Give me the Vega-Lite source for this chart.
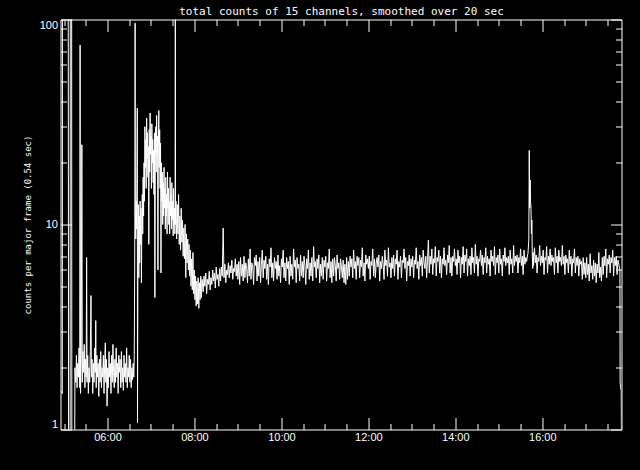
{
"$schema": "https://vega.github.io/schema/vega-lite/v6.json",
"width": 561, "height": 410,
"autosize": "none",
"padding": {"left": 60.5, "top": 19.5, "right": 18.5, "bottom": 40.5},
"background": "black",
"config": {
  "view": {"stroke": "white", "strokeWidth": 1},
  "axis": {"grid": false, "domain": false, "labelColor": "white", "tickColor": "white", "tickWidth": 1, "labelFont": "Liberation Sans", "labelFontSize": 11, "titleColor": "white"}
},
"data": {"values": [
{"h":4.92,"v":1.55},{"h":4.96,"v":1.5},{"h":4.965,"v":300},{"h":5.095,"v":300},{"h":5.10,"v":28.3},{"h":5.105,"v":0.5},{"h":5.14,"v":0.5},{"h":5.145,"v":300},{"h":5.175,"v":300},{"h":5.18,"v":0.5},{"h":5.245,"v":0.5},
{"h":5.25,"v":2.0},{"h":5.27,"v":1.7},{"h":5.285,"v":2.3},{"h":5.30,"v":1.6},{"h":5.315,"v":2.1},{"h":5.33,"v":1.8},{"h":5.345,"v":2.5},{"h":5.36,"v":1.6},{"h":5.37,"v":75},{"h":5.38,"v":1.5},{"h":5.395,"v":2.2},{"h":5.41,"v":24.5},{"h":5.42,"v":1.7},{"h":5.435,"v":2.4},{"h":5.45,"v":1.9},{"h":5.465,"v":2.6},{"h":5.48,"v":1.6},{"h":5.495,"v":2.2},{"h":5.51,"v":1.8},{"h":5.52,"v":6.9},{"h":5.53,"v":1.7},{"h":5.545,"v":2.3},{"h":5.56,"v":1.5},{"h":5.575,"v":2.0},{"h":5.59,"v":1.7},{"h":5.605,"v":2.4},{"h":5.62,"v":4.5},{"h":5.63,"v":1.8},{"h":5.645,"v":2.2},{"h":5.66,"v":1.5},{"h":5.675,"v":2.1},{"h":5.69,"v":1.7},{"h":5.705,"v":2.5},{"h":5.72,"v":1.9},{"h":5.73,"v":3.4},{"h":5.74,"v":1.6},{"h":5.755,"v":2.3},{"h":5.77,"v":1.8},{"h":5.785,"v":2.1},{"h":5.80,"v":1.45},{"h":5.815,"v":2.2},{"h":5.83,"v":1.7},{"h":5.845,"v":2.4},{"h":5.86,"v":1.6},{"h":5.875,"v":2.0},{"h":5.89,"v":1.8},{"h":5.905,"v":2.3},{"h":5.92,"v":1.5},{"h":5.935,"v":2.1},{"h":5.95,"v":2.65},{"h":5.96,"v":1.7},{"h":5.975,"v":2.2},{"h":5.99,"v":1.3},{"h":6.005,"v":2.0},{"h":6.02,"v":1.6},{"h":6.035,"v":2.4},{"h":6.05,"v":1.8},{"h":6.065,"v":2.1},{"h":6.08,"v":1.5},{"h":6.095,"v":2.3},{"h":6.11,"v":1.7},{"h":6.125,"v":2.6},{"h":6.14,"v":1.9},{"h":6.155,"v":1.6},{"h":6.17,"v":2.2},{"h":6.185,"v":1.7},{"h":6.20,"v":2.5},{"h":6.215,"v":1.8},{"h":6.23,"v":2.1},{"h":6.245,"v":1.5},{"h":6.26,"v":2.3},{"h":6.275,"v":1.9},{"h":6.29,"v":2.2},{"h":6.305,"v":1.6},{"h":6.32,"v":2.4},{"h":6.335,"v":1.7},{"h":6.35,"v":2.0},{"h":6.365,"v":1.55},{"h":6.38,"v":2.3},{"h":6.395,"v":1.8},{"h":6.41,"v":2.1},{"h":6.425,"v":1.7},{"h":6.44,"v":2.5},{"h":6.455,"v":1.6},{"h":6.47,"v":2.0},{"h":6.485,"v":1.8},{"h":6.50,"v":2.3},{"h":6.515,"v":1.7},{"h":6.53,"v":2.2},{"h":6.545,"v":1.6},{"h":6.56,"v":2.0},{"h":6.575,"v":1.75},{"h":6.59,"v":2.1},{"h":6.605,"v":1.8},{"h":6.615,"v":2.3},
{"h":6.625,"v":6},{"h":6.63,"v":14},{"h":6.635,"v":96},{"h":6.64,"v":12},{"h":6.65,"v":8.5},{"h":6.66,"v":13},{"h":6.67,"v":9.5},{"h":6.685,"v":37},{"h":6.69,"v":1.08},{"h":6.70,"v":8},{"h":6.71,"v":12.5},{"h":6.72,"v":5.5},{"h":6.73,"v":11},{"h":6.74,"v":6.5},{"h":6.75,"v":13},{"h":6.76,"v":8},{"h":6.77,"v":12},{"h":6.78,"v":5.2},{"h":6.79,"v":10},{"h":6.80,"v":14},{"h":6.81,"v":9},{"h":6.82,"v":17},{"h":6.83,"v":11},{"h":6.84,"v":20},{"h":6.85,"v":13},{"h":6.86,"v":30},{"h":6.87,"v":19},{"h":6.88,"v":26},{"h":6.89,"v":15},{"h":6.90,"v":33},{"h":6.91,"v":21},{"h":6.92,"v":28},{"h":6.93,"v":17},{"h":6.94,"v":24},{"h":6.95,"v":8},{"h":6.96,"v":29},{"h":6.97,"v":18},{"h":6.98,"v":35},{"h":6.99,"v":22},{"h":7.00,"v":27},{"h":7.01,"v":15},{"h":7.02,"v":31},{"h":7.03,"v":20},{"h":7.04,"v":26},{"h":7.05,"v":16},{"h":7.06,"v":23},{"h":7.07,"v":14},{"h":7.08,"v":28},{"h":7.09,"v":4.4},{"h":7.10,"v":21},{"h":7.11,"v":30},{"h":7.12,"v":18},{"h":7.13,"v":34},{"h":7.14,"v":22},{"h":7.15,"v":27},{"h":7.16,"v":6},{"h":7.17,"v":24},{"h":7.18,"v":36},{"h":7.19,"v":19},{"h":7.20,"v":29},{"h":7.21,"v":15},{"h":7.22,"v":25},{"h":7.23,"v":5.8},{"h":7.24,"v":20},{"h":7.25,"v":13},{"h":7.26,"v":18},{"h":7.27,"v":10},{"h":7.28,"v":16},{"h":7.29,"v":11},{"h":7.30,"v":19},{"h":7.31,"v":12},{"h":7.32,"v":15},{"h":7.33,"v":9.5},{"h":7.34,"v":17},{"h":7.35,"v":11},{"h":7.36,"v":14},{"h":7.37,"v":9},{"h":7.38,"v":18},{"h":7.39,"v":12},{"h":7.40,"v":15},{"h":7.41,"v":10},{"h":7.42,"v":13},{"h":7.43,"v":9},{"h":7.44,"v":17},{"h":7.45,"v":11},{"h":7.46,"v":14},{"h":7.47,"v":9.5},{"h":7.48,"v":16},{"h":7.49,"v":10.5},{"h":7.50,"v":13},{"h":7.51,"v":8.8},{"h":7.52,"v":15},{"h":7.53,"v":10},{"h":7.54,"v":12},{"h":7.55,"v":9},{"h":7.555,"v":11},{"h":7.56,"v":200},{"h":7.565,"v":10},{"h":7.575,"v":13},{"h":7.59,"v":8.5},{"h":7.605,"v":12.5},{"h":7.62,"v":9},{"h":7.635,"v":14},{"h":7.65,"v":8},{"h":7.665,"v":11},{"h":7.68,"v":7.5},{"h":7.695,"v":12},{"h":7.71,"v":8.2},{"h":7.725,"v":10.5},{"h":7.74,"v":7},{"h":7.755,"v":9.6},{"h":7.77,"v":6.8},{"h":7.785,"v":10},{"h":7.80,"v":5.5},{"h":7.815,"v":9},{"h":7.83,"v":6.5},{"h":7.845,"v":8.5},{"h":7.86,"v":6},{"h":7.875,"v":8},{"h":7.89,"v":5.6},{"h":7.905,"v":7.5},{"h":7.92,"v":5.0},{"h":7.935,"v":6.8},{"h":7.95,"v":4.8},{"h":7.965,"v":7.3},{"h":7.98,"v":4.6},{"h":7.995,"v":6.0},{"h":8.01,"v":4.3},{"h":8.025,"v":5.6},{"h":8.04,"v":4.0},{"h":8.055,"v":5.3},{"h":8.07,"v":4.1},{"h":8.085,"v":5.5},{"h":8.10,"v":3.9},{"h":8.115,"v":5.2},{"h":8.13,"v":4.3},{"h":8.145,"v":5.6},{"h":8.16,"v":4.4},{"h":8.175,"v":5.4},
{"h":8.20,"v":4.7},{"h":8.22,"v":5.6},{"h":8.24,"v":5.0},{"h":8.26,"v":5.8},{"h":8.28,"v":4.6},{"h":8.30,"v":5.4},{"h":8.32,"v":5.1},{"h":8.34,"v":5.9},{"h":8.36,"v":4.8},{"h":8.38,"v":5.5},
{"h":8.40,"v":5.1},{"h":8.42,"v":6.0},{"h":8.44,"v":5.3},{"h":8.46,"v":5.8},{"h":8.48,"v":4.9},{"h":8.50,"v":6.2},{"h":8.52,"v":5.4},{"h":8.54,"v":5.7},{"h":8.56,"v":5.0},{"h":8.58,"v":6.1},
{"h":8.60,"v":5.3},{"h":8.62,"v":6.2},{"h":8.64,"v":5.6},{"h":8.66,"v":9.6},{"h":8.68,"v":5.5},{"h":8.70,"v":6.4},{"h":8.72,"v":5.2},{"h":8.74,"v":6.0},{"h":8.76,"v":5.7},{"h":8.78,"v":6.5},
{"h":8.80,"v":5.5},{"h":8.82,"v":6.3},{"h":8.84,"v":5.8},{"h":8.86,"v":6.7},{"h":8.88,"v":5.4},{"h":8.90,"v":6.1},{"h":8.92,"v":5.9},{"h":8.94,"v":6.8},{"h":8.96,"v":5.6},{"h":8.98,"v":6.4},
{"h":9.00,"v":5.4},{"h":9.02,"v":6.6},{"h":9.04,"v":5.1},{"h":9.06,"v":6.9},{"h":9.08,"v":5.6},{"h":9.10,"v":6.4},{"h":9.12,"v":5.3},{"h":9.14,"v":7.0},{"h":9.16,"v":5.5},{"h":9.18,"v":6.5},
{"h":9.20,"v":6.1},{"h":9.22,"v":5.2},{"h":9.24,"v":6.8},{"h":9.26,"v":5.6},{"h":9.28,"v":7.6},{"h":9.30,"v":5.4},{"h":9.32,"v":6.5},{"h":9.34,"v":6.2},{"h":9.36,"v":5.1},{"h":9.38,"v":6.9},
{"h":9.40,"v":6.3},{"h":9.42,"v":7.1},{"h":9.44,"v":5.3},{"h":9.46,"v":6.6},{"h":9.48,"v":5.6},{"h":9.50,"v":6.9},{"h":9.52,"v":5.2},{"h":9.54,"v":6.4},{"h":9.56,"v":7.5},{"h":9.58,"v":5.5},
{"h":9.60,"v":6.7},{"h":9.62,"v":6.1},{"h":9.64,"v":7.0},{"h":9.66,"v":5.4},{"h":9.68,"v":6.4},{"h":9.70,"v":5.1},{"h":9.72,"v":6.8},{"h":9.74,"v":6.2},{"h":9.76,"v":7.7},{"h":9.78,"v":5.5},
{"h":9.80,"v":6.5},{"h":9.82,"v":5.3},{"h":9.84,"v":6.9},{"h":9.86,"v":6.1},{"h":9.88,"v":6.6},{"h":9.90,"v":5.4},{"h":9.92,"v":7.1},{"h":9.94,"v":5.6},{"h":9.96,"v":6.3},{"h":9.98,"v":5.2},
{"h":10.00,"v":6.8},{"h":10.02,"v":6.2},{"h":10.04,"v":7.5},{"h":10.06,"v":5.5},{"h":10.08,"v":6.5},{"h":10.10,"v":5.3},{"h":10.12,"v":6.9},{"h":10.14,"v":6.1},{"h":10.16,"v":6.6},{"h":10.18,"v":5.1},
{"h":10.20,"v":7.0},{"h":10.22,"v":5.6},{"h":10.24,"v":6.4},{"h":10.26,"v":5.4},{"h":10.28,"v":7.6},{"h":10.30,"v":6.2},{"h":10.32,"v":6.7},{"h":10.34,"v":5.2},{"h":10.36,"v":6.9},{"h":10.38,"v":6.1},
{"h":10.40,"v":6.4},{"h":10.42,"v":5.3},{"h":10.44,"v":7.1},{"h":10.46,"v":5.6},{"h":10.48,"v":6.6},{"h":10.50,"v":5.5},{"h":10.52,"v":7.0},{"h":10.54,"v":6.3},{"h":10.56,"v":5.1},{"h":10.58,"v":6.8},
{"h":10.60,"v":6.1},{"h":10.62,"v":7.5},{"h":10.64,"v":5.4},{"h":10.66,"v":6.5},{"h":10.68,"v":5.6},{"h":10.70,"v":6.9},{"h":10.72,"v":5.3},{"h":10.74,"v":7.8},{"h":10.76,"v":6.2},{"h":10.78,"v":6.6},
{"h":10.80,"v":5.5},{"h":10.82,"v":6.8},{"h":10.84,"v":6.1},{"h":10.86,"v":7.1},{"h":10.88,"v":5.2},{"h":10.90,"v":6.4},{"h":10.92,"v":5.6},{"h":10.94,"v":6.9},{"h":10.96,"v":5.4},{"h":10.98,"v":6.7},
{"h":11.00,"v":6.2},{"h":11.02,"v":7.0},{"h":11.04,"v":5.3},{"h":11.06,"v":6.5},{"h":11.08,"v":6.1},{"h":11.10,"v":7.6},{"h":11.12,"v":5.5},{"h":11.14,"v":6.6},{"h":11.16,"v":5.2},{"h":11.18,"v":6.8},
{"h":11.20,"v":5.6},{"h":11.22,"v":6.9},{"h":11.24,"v":6.3},{"h":11.26,"v":5.3},{"h":11.28,"v":7.1},{"h":11.30,"v":6.1},{"h":11.32,"v":6.5},{"h":11.34,"v":5.4},{"h":11.36,"v":6.8},{"h":11.38,"v":6.2},
{"h":11.40,"v":5.5},{"h":11.42,"v":6.7},{"h":11.44,"v":5.2},{"h":11.46,"v":6.4},{"h":11.48,"v":5.1},{"h":11.50,"v":6.9},{"h":11.52,"v":5.4},{"h":11.54,"v":6.6},{"h":11.56,"v":5.6},{"h":11.58,"v":7.0},
{"h":11.60,"v":6.2},{"h":11.62,"v":6.8},{"h":11.64,"v":5.5},{"h":11.66,"v":7.5},{"h":11.68,"v":6.1},{"h":11.70,"v":6.6},{"h":11.72,"v":5.4},{"h":11.74,"v":7.0},{"h":11.76,"v":6.3},{"h":11.78,"v":6.9},
{"h":11.80,"v":5.5},{"h":11.82,"v":6.7},{"h":11.84,"v":6.2},{"h":11.86,"v":7.7},{"h":11.88,"v":5.6},{"h":11.90,"v":6.5},{"h":11.92,"v":5.3},{"h":11.94,"v":7.1},{"h":11.96,"v":6.4},{"h":11.98,"v":6.8},
{"h":12.00,"v":6.1},{"h":12.02,"v":7.0},{"h":12.04,"v":5.4},{"h":12.06,"v":6.6},{"h":12.08,"v":6.3},{"h":12.10,"v":7.6},{"h":12.12,"v":5.6},{"h":12.14,"v":6.8},{"h":12.16,"v":5.5},{"h":12.18,"v":6.5},
{"h":12.20,"v":6.9},{"h":12.22,"v":6.2},{"h":12.24,"v":7.1},{"h":12.26,"v":5.3},{"h":12.28,"v":6.6},{"h":12.30,"v":6.1},{"h":12.32,"v":7.0},{"h":12.34,"v":6.4},{"h":12.36,"v":5.4},{"h":12.38,"v":7.5},
{"h":12.40,"v":6.3},{"h":12.42,"v":6.7},{"h":12.44,"v":5.6},{"h":12.46,"v":7.7},{"h":12.48,"v":6.2},{"h":12.50,"v":6.5},{"h":12.52,"v":5.5},{"h":12.54,"v":6.9},{"h":12.56,"v":6.1},{"h":12.58,"v":7.1},
{"h":12.60,"v":5.6},{"h":12.62,"v":6.8},{"h":12.64,"v":6.4},{"h":12.66,"v":7.5},{"h":12.68,"v":5.4},{"h":12.70,"v":6.6},{"h":12.72,"v":6.2},{"h":12.74,"v":7.0},{"h":12.76,"v":5.5},{"h":12.78,"v":6.7},
{"h":12.80,"v":6.5},{"h":12.82,"v":7.6},{"h":12.84,"v":6.1},{"h":12.86,"v":6.9},{"h":12.88,"v":5.3},{"h":12.90,"v":6.6},{"h":12.92,"v":6.3},{"h":12.94,"v":7.1},{"h":12.96,"v":5.6},{"h":12.98,"v":6.8},
{"h":13.00,"v":6.2},{"h":13.02,"v":7.0},{"h":13.04,"v":5.5},{"h":13.06,"v":6.7},{"h":13.08,"v":6.4},{"h":13.10,"v":7.7},{"h":13.12,"v":6.1},{"h":13.14,"v":6.6},{"h":13.16,"v":5.4},{"h":13.18,"v":7.1},
{"h":13.20,"v":6.3},{"h":13.22,"v":6.9},{"h":13.24,"v":5.6},{"h":13.26,"v":7.5},{"h":13.28,"v":6.5},{"h":13.30,"v":6.1},{"h":13.32,"v":7.0},{"h":13.34,"v":5.5},{"h":13.36,"v":6.7},{"h":13.38,"v":8.4},
{"h":13.40,"v":5.8},{"h":13.42,"v":7.0},{"h":13.44,"v":6.4},{"h":13.46,"v":7.6},{"h":13.48,"v":5.7},{"h":13.50,"v":6.8},{"h":13.52,"v":6.5},{"h":13.54,"v":7.8},{"h":13.56,"v":5.6},{"h":13.58,"v":6.9},
{"h":13.60,"v":6.6},{"h":13.62,"v":7.5},{"h":13.64,"v":5.8},{"h":13.66,"v":7.0},{"h":13.68,"v":5.5},{"h":13.70,"v":6.8},{"h":13.72,"v":6.4},{"h":13.74,"v":7.7},{"h":13.76,"v":6.3},{"h":13.78,"v":6.7},
{"h":13.80,"v":5.7},{"h":13.82,"v":7.1},{"h":13.84,"v":6.5},{"h":13.86,"v":7.9},{"h":13.88,"v":5.8},{"h":13.90,"v":6.9},{"h":13.92,"v":5.6},{"h":13.94,"v":7.0},{"h":13.96,"v":6.6},{"h":13.98,"v":7.6},
{"h":14.00,"v":6.3},{"h":14.02,"v":6.8},{"h":14.04,"v":5.7},{"h":14.06,"v":7.5},{"h":14.08,"v":6.5},{"h":14.10,"v":7.0},{"h":14.12,"v":5.5},{"h":14.14,"v":6.9},{"h":14.16,"v":6.4},{"h":14.18,"v":7.8},
{"h":14.20,"v":5.8},{"h":14.22,"v":7.1},{"h":14.24,"v":6.6},{"h":14.26,"v":7.6},{"h":14.28,"v":5.6},{"h":14.30,"v":6.8},{"h":14.32,"v":6.3},{"h":14.34,"v":7.0},{"h":14.36,"v":5.7},{"h":14.38,"v":7.7},
{"h":14.40,"v":6.5},{"h":14.42,"v":6.9},{"h":14.44,"v":5.8},{"h":14.46,"v":8.0},{"h":14.48,"v":6.4},{"h":14.50,"v":7.0},{"h":14.52,"v":5.6},{"h":14.54,"v":6.8},{"h":14.56,"v":6.6},{"h":14.58,"v":7.5},
{"h":14.60,"v":6.3},{"h":14.62,"v":7.1},{"h":14.64,"v":5.7},{"h":14.66,"v":6.9},{"h":14.68,"v":6.5},{"h":14.70,"v":7.7},{"h":14.72,"v":5.8},{"h":14.74,"v":7.0},{"h":14.76,"v":6.4},{"h":14.78,"v":6.8},
{"h":14.80,"v":5.6},{"h":14.82,"v":7.5},{"h":14.84,"v":6.6},{"h":14.86,"v":7.0},{"h":14.88,"v":6.3},{"h":14.90,"v":7.8},{"h":14.92,"v":5.7},{"h":14.94,"v":6.9},{"h":14.96,"v":6.5},{"h":14.98,"v":7.1},
{"h":15.00,"v":5.8},{"h":15.02,"v":7.6},{"h":15.04,"v":6.4},{"h":15.06,"v":6.8},{"h":15.08,"v":5.6},{"h":15.10,"v":7.1},{"h":15.12,"v":6.6},{"h":15.14,"v":7.7},{"h":15.16,"v":6.3},{"h":15.18,"v":6.9},
{"h":15.20,"v":6.5},{"h":15.22,"v":7.0},{"h":15.24,"v":5.7},{"h":15.26,"v":7.5},{"h":15.28,"v":6.4},{"h":15.30,"v":6.8},{"h":15.32,"v":5.8},{"h":15.34,"v":7.9},{"h":15.36,"v":6.3},{"h":15.38,"v":7.0},
{"h":15.40,"v":6.6},{"h":15.42,"v":7.1},{"h":15.44,"v":5.8},{"h":15.46,"v":6.9},{"h":15.48,"v":6.5},{"h":15.50,"v":7.6},{"h":15.52,"v":6.3},{"h":15.54,"v":7.0},{"h":15.56,"v":5.7},{"h":15.58,"v":7.5},
{"h":15.60,"v":6.4},{"h":15.62,"v":6.9},{"h":15.64,"v":6.6},{"h":15.66,"v":7.1},
{"h":15.67,"v":7.2},{"h":15.69,"v":8.4},{"h":15.70,"v":23},{"h":15.71,"v":12},{"h":15.72,"v":16.5},{"h":15.73,"v":13},{"h":15.74,"v":12},{"h":15.75,"v":9},{"h":15.76,"v":10.5},{"h":15.77,"v":7.0},{"h":15.78,"v":6.1},{"h":15.79,"v":7.3},
{"h":15.80,"v":6.3},{"h":15.82,"v":7.7},{"h":15.84,"v":6.5},{"h":15.86,"v":7.1},{"h":15.88,"v":5.8},{"h":15.90,"v":6.9},{"h":15.92,"v":6.6},{"h":15.94,"v":7.9},{"h":15.96,"v":6.3},{"h":15.98,"v":7.0},
{"h":16.00,"v":6.5},{"h":16.02,"v":7.5},{"h":16.04,"v":5.7},{"h":16.06,"v":6.9},{"h":16.08,"v":6.7},{"h":16.10,"v":7.8},{"h":16.12,"v":5.8},{"h":16.14,"v":7.0},{"h":16.16,"v":6.4},{"h":16.18,"v":7.6},
{"h":16.20,"v":6.3},{"h":16.22,"v":7.1},{"h":16.24,"v":6.6},{"h":16.26,"v":6.9},{"h":16.28,"v":5.7},{"h":16.30,"v":7.7},{"h":16.32,"v":6.5},{"h":16.34,"v":7.0},{"h":16.36,"v":5.8},{"h":16.38,"v":7.5},
{"h":16.40,"v":6.6},{"h":16.42,"v":6.9},{"h":16.44,"v":6.3},{"h":16.46,"v":7.9},{"h":16.48,"v":6.4},{"h":16.50,"v":7.0},{"h":16.52,"v":5.7},{"h":16.54,"v":7.1},{"h":16.56,"v":6.5},{"h":16.58,"v":6.8},
{"h":16.60,"v":5.8},{"h":16.62,"v":7.5},{"h":16.64,"v":6.4},{"h":16.66,"v":7.0},{"h":16.68,"v":5.6},{"h":16.70,"v":6.8},{"h":16.72,"v":6.5},{"h":16.74,"v":7.6},{"h":16.76,"v":5.8},{"h":16.78,"v":6.9},
{"h":16.80,"v":6.3},{"h":16.82,"v":7.0},{"h":16.84,"v":5.6},{"h":16.86,"v":6.8},{"h":16.88,"v":6.4},{"h":16.90,"v":6.6},{"h":16.92,"v":5.4},{"h":16.94,"v":6.9},{"h":16.96,"v":5.7},{"h":16.98,"v":6.5},
{"h":17.00,"v":5.5},{"h":17.02,"v":6.9},{"h":17.04,"v":5.7},{"h":17.06,"v":6.4},{"h":17.08,"v":5.3},{"h":17.10,"v":7.2},{"h":17.12,"v":5.8},{"h":17.14,"v":6.3},{"h":17.16,"v":5.4},{"h":17.18,"v":6.7},
{"h":17.20,"v":5.6},{"h":17.22,"v":6.5},{"h":17.24,"v":5.2},{"h":17.26,"v":6.4},{"h":17.28,"v":5.8},{"h":17.30,"v":7.3},{"h":17.32,"v":5.5},{"h":17.34,"v":6.2},{"h":17.36,"v":5.3},{"h":17.38,"v":6.9},
{"h":17.40,"v":5.7},{"h":17.42,"v":7.0},{"h":17.44,"v":6.3},{"h":17.46,"v":7.6},{"h":17.48,"v":5.5},{"h":17.50,"v":6.8},{"h":17.52,"v":6.4},{"h":17.54,"v":7.1},{"h":17.56,"v":5.8},{"h":17.58,"v":6.9},
{"h":17.60,"v":6.5},{"h":17.62,"v":7.5},{"h":17.64,"v":5.6},{"h":17.66,"v":6.9},{"h":17.68,"v":6.3},{"h":17.70,"v":7.0},{"h":17.72,"v":5.7},{"h":17.74,"v":6.7},{"h":17.76,"v":6.4},
{"h":17.785,"v":6.0},{"h":17.79,"v":1.7},{"h":17.80,"v":1.6},{"h":17.815,"v":1.55},{"h":17.82,"v":0.9}
]},
"layer": [
  {
    "mark": {"type": "line", "color": "white", "strokeWidth": 1, "clip": true},
    "encoding": {
      "x": {"field": "h", "type": "quantitative", "scale": {"domain": [4.919, 17.8215], "nice": false, "zero": false},
        "axis": {"orient": "bottom", "values": [6, 8, 10, 12, 14, 16], "labelExpr": "(datum.value < 10 ? '0' : '') + datum.value + ':00'", "ticks": false, "labelPadding": 2, "labelFlush": false, "labelColor": "white", "title": null}},
      "y": {"field": "v", "type": "quantitative", "scale": {"type": "log", "domain": [1, 100], "nice": false},
        "axis": {"orient": "left", "values": [1, 10, 100], "labelExpr": "datum.value", "ticks": false, "labelPadding": 3, "labelFlush": true, "labelColor": "white",
          "title": "counts per major frame (0.54 sec)", "titleFont": "DejaVu Sans Mono", "titleFontSize": 9, "titleFontWeight": "normal", "titleColor": "white",
          "titleAngle": 270, "titleAlign": "center", "titleBaseline": "middle", "titleX": -33, "titleY": 205}}
    }
  },
  {
    "mark": {"type": "line", "strokeOpacity": 0},
    "encoding": {
      "x": {"field": "h", "type": "quantitative", "scale": {"domain": [4.919, 17.8215], "nice": false, "zero": false},
        "axis": {"orient": "bottom", "values": [6, 8, 10, 12, 14, 16], "labels": false, "tickSize": -12, "title": null}},
      "y": {"field": "v", "type": "quantitative", "scale": {"type": "log", "domain": [1, 100], "nice": false},
        "axis": {"orient": "left", "values": [1, 10, 100], "labels": false, "tickSize": -11, "title": null}}
    }
  },
  {
    "mark": {"type": "line", "strokeOpacity": 0},
    "encoding": {
      "x": {"field": "h", "type": "quantitative", "scale": {"domain": [4.919, 17.8215], "nice": false, "zero": false},
        "axis": {"orient": "bottom", "values": [5, 5.5, 6.5, 7, 7.5, 8.5, 9, 9.5, 10.5, 11, 11.5, 12.5, 13, 13.5, 14.5, 15, 15.5, 16.5, 17, 17.5], "labels": false, "tickSize": -6, "title": null}},
      "y": {"field": "v", "type": "quantitative", "scale": {"type": "log", "domain": [1, 100], "nice": false},
        "axis": {"orient": "left", "values": [2, 3, 4, 5, 6, 7, 8, 9, 20, 30, 40, 50, 60, 70, 80, 90], "labels": false, "tickSize": -6, "title": null}}
    }
  },
  {
    "mark": {"type": "line", "strokeOpacity": 0},
    "encoding": {
      "x": {"field": "h", "type": "quantitative", "scale": {"domain": [4.919, 17.8215], "nice": false, "zero": false},
        "axis": {"orient": "top", "values": [6, 8, 10, 12, 14, 16], "labels": false, "tickSize": -12,
          "title": "total counts of 15 channels, smoothed over 20 sec", "titleFont": "DejaVu Sans Mono", "titleFontSize": 11, "titleFontWeight": "normal", "titleColor": "white",
          "titleX": 280.5, "titleY": -5, "titleAlign": "center", "titleBaseline": "alphabetic", "titleAngle": 0}},
      "y": {"field": "v", "type": "quantitative", "scale": {"type": "log", "domain": [1, 100], "nice": false},
        "axis": {"orient": "right", "values": [1, 10, 100], "labels": false, "tickSize": -11, "title": null}}
    }
  },
  {
    "mark": {"type": "line", "strokeOpacity": 0},
    "encoding": {
      "x": {"field": "h", "type": "quantitative", "scale": {"domain": [4.919, 17.8215], "nice": false, "zero": false},
        "axis": {"orient": "top", "values": [5, 5.5, 6.5, 7, 7.5, 8.5, 9, 9.5, 10.5, 11, 11.5, 12.5, 13, 13.5, 14.5, 15, 15.5, 16.5, 17, 17.5], "labels": false, "tickSize": -6, "title": null}},
      "y": {"field": "v", "type": "quantitative", "scale": {"type": "log", "domain": [1, 100], "nice": false},
        "axis": {"orient": "right", "values": [2, 3, 4, 5, 6, 7, 8, 9, 20, 30, 40, 50, 60, 70, 80, 90], "labels": false, "tickSize": -6, "title": null}}
    }
  }
],
"resolve": {"axis": {"x": "independent", "y": "independent"}}
}
